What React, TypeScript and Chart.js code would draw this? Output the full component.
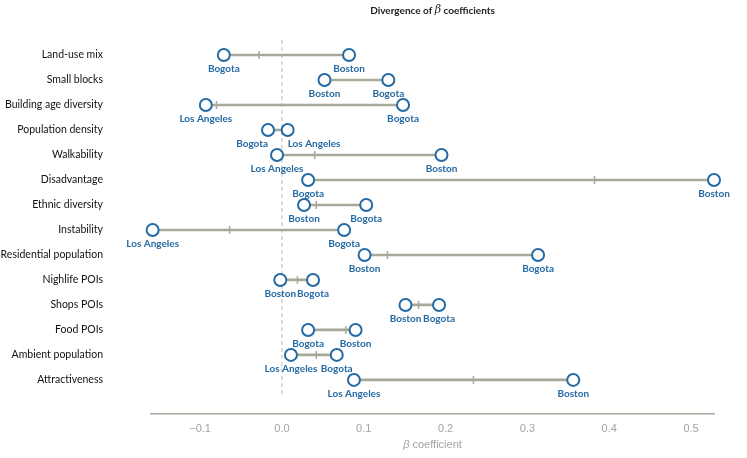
import React, { useEffect, useRef } from "react";
import { Chart, registerables } from "chart.js";

Chart.register(...registerables);

const categories = [
  "Land-use mix",
  "Small blocks",
  "Building age diversity",
  "Population density",
  "Walkability",
  "Disadvantage",
  "Ethnic diversity",
  "Instability",
  "Residential population",
  "Nighlife POIs",
  "Shops POIs",
  "Food POIs",
  "Ambient population",
  "Attractiveness",
];

const leftCity = [
  "Bogota", "Boston", "Los Angeles", "Bogota", "Los Angeles", "Bogota", "Boston",
  "Los Angeles", "Boston", "Boston", "Boston", "Bogota", "Los Angeles", "Los Angeles",
];
const leftValue = [-0.071, 0.052, -0.093, -0.017, -0.006, 0.032, 0.027, -0.158, 0.101, -0.002, 0.151, 0.032, 0.011, 0.088];

const rightCity = [
  "Boston", "Bogota", "Bogota", "Los Angeles", "Boston", "Boston", "Bogota",
  "Bogota", "Bogota", "Bogota", "Bogota", "Boston", "Bogota", "Boston",
];
const rightValue = [0.082, 0.130, 0.148, 0.007, 0.195, 0.528, 0.103, 0.076, 0.313, 0.038, 0.192, 0.090, 0.067, 0.356];

const markValue: (number | null)[] = [-0.028, null, -0.080, null, 0.040, 0.382, 0.042, -0.064, 0.129, 0.019, 0.167, 0.078, 0.042, 0.234];

const xTicks = [-0.1, 0.0, 0.1, 0.2, 0.3, 0.4, 0.5];
const xMin = -0.16;
const xMax = 0.528;

const BLUE = "#246aa4";
const GRAY = "#a8a89b";
const LABEL_FONT = "Lato, sans-serif";

export default function App() {
  const ref = useRef<HTMLCanvasElement | null>(null);

  useEffect(() => {
    if (!ref.current) return;

    const pointsData: any[] = [];
    categories.forEach((_, i) => {
      pointsData.push({ x: leftValue[i], y: i, city: leftCity[i] });
      pointsData.push({ x: rightValue[i], y: i, city: rightCity[i] });
    });
    const marksData = categories
      .map((_, i) => ({ x: markValue[i], y: i }))
      .filter((d) => d.x !== null);
    const barData = categories.map((_, i) => ({
      x: [Math.min(leftValue[i], rightValue[i]), Math.max(leftValue[i], rightValue[i])],
      y: i,
    }));

    const overlay = {
      id: "overlay",
      beforeDatasetsDraw(chart: any) {
        const { ctx, chartArea, scales } = chart;
        const x0 = scales.x.getPixelForValue(0);
        ctx.save();
        ctx.strokeStyle = "#b8b8b8";
        ctx.lineWidth = 1;
        ctx.setLineDash([4, 3]);
        ctx.beginPath();
        ctx.moveTo(x0, chartArea.top);
        ctx.lineTo(x0, scales.y.getPixelForValue(13.68));
        ctx.stroke();
        ctx.restore();
      },
      afterDatasetsDraw(chart: any) {
        const { ctx } = chart;
        const meta = chart.getDatasetMeta(0);
        const data = chart.data.datasets[0].data;
        ctx.save();
        ctx.fillStyle = BLUE;
        ctx.font = `bold 10px ${LABEL_FONT}`;
        ctx.textBaseline = "middle";
        for (let i = 0; i + 1 < meta.data.length; i += 2) {
          let a = meta.data[i];
          let b = meta.data[i + 1];
          let ta = data[i].city;
          let tb = data[i + 1].city;
          if (a.x > b.x) {
            [a, b] = [b, a];
            [ta, tb] = [tb, ta];
          }
          const wa = ctx.measureText(ta).width;
          const wb = ctx.measureText(tb).width;
          const overlap = a.x + wa / 2 > b.x - wb / 2 + 4;
          if (overlap) {
            ctx.textAlign = "right";
            ctx.fillText(ta, a.x, a.y + 13.5);
            ctx.textAlign = "left";
            ctx.fillText(tb, b.x, b.y + 13.5);
          } else {
            ctx.textAlign = "center";
            ctx.fillText(ta, a.x, a.y + 13.5);
            ctx.fillText(tb, b.x, b.y + 13.5);
          }
        }
        ctx.restore();
      },
      afterDraw(chart: any) {
        const { ctx, chartArea } = chart;
        const cx = (chartArea.left + chartArea.right) / 2;
        const drawMixed = (parts: [string, string][], y: number, color: string) => {
          ctx.save();
          ctx.fillStyle = color;
          ctx.textBaseline = "middle";
          ctx.textAlign = "left";
          let total = 0;
          parts.forEach(([t, f]) => {
            ctx.font = f;
            total += ctx.measureText(t).width;
          });
          let x = cx - total / 2;
          parts.forEach(([t, f]) => {
            ctx.font = f;
            ctx.fillText(t, x, y);
            x += ctx.measureText(t).width;
          });
          ctx.restore();
        };
        drawMixed(
          [
            ["Divergence of ", `bold 10px ${LABEL_FONT}`],
            ["β", `italic 11px 'DejaVu Serif'`],
            [" coefficients", `bold 10px ${LABEL_FONT}`],
          ],
          10.5,
          "#222"
        );
        drawMixed(
          [
            ["β", `italic 11px 'Liberation Sans'`],
            [" coefficient", `11px 'Liberation Sans'`],
          ],
          chartArea.bottom + 31,
          "#a3a3a3"
        );
      },
    };

    const chart = new Chart(ref.current, {
      type: "bar",
      data: {
        datasets: [
          {
            type: "scatter",
            data: pointsData,
            pointStyle: "circle",
            pointRadius: 6,
            pointBackgroundColor: "#ffffff",
            pointBorderColor: BLUE,
            pointBorderWidth: 2,
            clip: false,
            order: 0,
          } as any,
          {
            type: "scatter",
            data: marksData,
            pointStyle: "line",
            rotation: 90,
            pointRadius: 4,
            pointBorderColor: GRAY,
            pointBorderWidth: 1.5,
            clip: false,
            order: 1,
          } as any,
          {
            type: "bar",
            indexAxis: "y",
            data: barData,
            backgroundColor: GRAY,
            barThickness: 2,
            borderWidth: 0,
            clip: false,
            order: 2,
          } as any,
        ],
      },
      options: {
        animation: false,
        responsive: true,
        maintainAspectRatio: false,
        layout: { padding: { top: 40, right: 33, left: 0, bottom: 0 } },
        plugins: {
          legend: { display: false },
          tooltip: { enabled: false },
          title: { display: false },
        },
        scales: {
          x: {
            type: "linear",
            min: xMin,
            max: xMax,
            offset: false,
            grid: { display: false, drawTicks: false },
            border: { display: true, color: GRAY, width: 1.5 },
            ticks: {
              padding: 8,
              color: "#a3a3a3",
              font: { family: "'Liberation Sans'", size: 11 },
              callback: (v: any) => Number(v).toFixed(1).replace("-", "\u2212"),
            },
            afterBuildTicks: (s: any) => {
              s.ticks = xTicks.map((v) => ({ value: v }));
            },
            afterFit: (s: any) => {
              s.height = 44;
              s.paddingLeft = 0;
              s.paddingRight = 0;
            },
          },
          y: {
            type: "linear",
            reverse: true,
            min: -0.602,
            max: 14.364,
            offset: false,
            grid: { display: false, drawTicks: false, offset: false },
            border: { display: false },
            ticks: {
              padding: 48,
              color: "#111",
              autoSkip: false,
              font: { family: LABEL_FONT, size: 10.5, weight: "normal" },
              callback: (v: any) => categories[Number(v)] ?? "",
            },
            afterBuildTicks: (s: any) => {
              s.ticks = categories.map((_, i) => ({ value: i }));
            },
            afterFit: (s: any) => {
              s.width = 151;
              s.paddingTop = 0;
              s.paddingBottom = 0;
            },
          },
        },
      } as any,
      plugins: [overlay],
    });

    return () => chart.destroy();
  }, []);

  return (
    <div style={{ position: "fixed", left: 0, top: 0, width: 747, height: 458, background: "#fff" }}>
      <canvas ref={ref} />
    </div>
  );
}
